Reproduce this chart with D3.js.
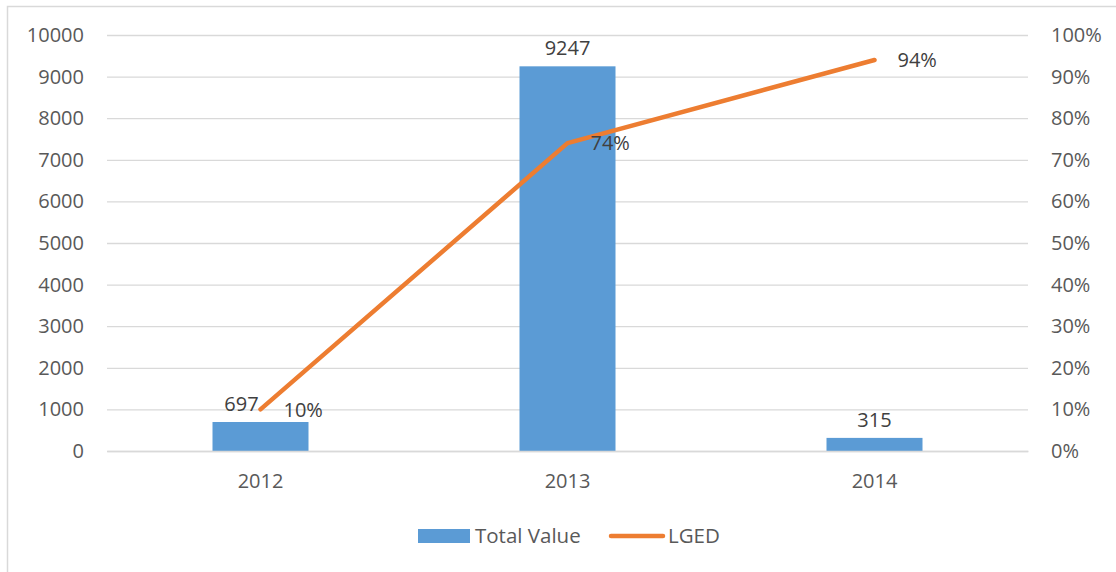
<!DOCTYPE html>
<html>
<head>
<meta charset="utf-8">
<script src="https://cdn.jsdelivr.net/npm/d3@7"></script>
<style>
  html, body { margin: 0; padding: 0; background: #fff; }
  svg { display: block; font-family: 'Open Sans', 'Liberation Sans', sans-serif; }
</style>
</head>
<body>
<svg id="chart" width="1116" height="572"></svg>
<script>
const years = ['2012', '2013', '2014'];
const totalValue = [697, 9247, 315];
const lged = [0.10, 0.74, 0.94];
const leftTicks = [0, 1000, 2000, 3000, 4000, 5000, 6000, 7000, 8000, 9000, 10000];
const rightTicks = [0, 0.1, 0.2, 0.3, 0.4, 0.5, 0.6, 0.7, 0.8, 0.9, 1.0];

const svg = d3.select('#chart');
const plot = { left: 107, right: 1028, top: 35, bottom: 451 };
const fontSize = '20px';

// chart frame
svg.append('rect')
  .attr('x', 7.5).attr('y', 6.5)
  .attr('width', 1120).attr('height', 580)
  .attr('fill', '#fff').attr('stroke', '#d9d9d9').attr('stroke-width', 1.5);

const x = d3.scaleBand().domain(years).range([plot.left, plot.right]).paddingInner(0).paddingOuter(0);
const yLeft = d3.scaleLinear().domain([0, 10000]).range([plot.bottom, plot.top]);
const yRight = d3.scaleLinear().domain([0, 1]).range([plot.bottom, plot.top]);

// gridlines
svg.append('g')
  .attr('transform', `translate(${plot.left},0)`)
  .call(d3.axisLeft(yLeft).tickValues(leftTicks).tickSize(-(plot.right - plot.left)).tickFormat(''))
  .call((g) => g.select('.domain').remove())
  .call((g) => g.selectAll('line').attr('stroke', '#d9d9d9').attr('stroke-width', 1.3));

// left axis labels
svg.append('g')
  .attr('transform', `translate(${plot.left},0)`)
  .call(d3.axisLeft(yLeft).tickValues(leftTicks).tickSize(0).tickPadding(23).tickFormat(d3.format('d')))
  .call((g) => g.select('.domain').remove())
  .call((g) => g.selectAll('text').attr('fill', '#595959').style('font-size', fontSize)
    .style('font-family', "'Open Sans', sans-serif"));

// right axis labels
svg.append('g')
  .attr('transform', `translate(${plot.right},0)`)
  .call(d3.axisRight(yRight).tickValues(rightTicks).tickSize(0).tickPadding(23).tickFormat(d3.format('.0%')))
  .call((g) => g.select('.domain').remove())
  .call((g) => g.selectAll('text').attr('fill', '#595959').style('font-size', fontSize)
    .style('font-family', "'Open Sans', sans-serif"));

// bars
const barWidth = 96;
svg.append('g').selectAll('rect')
  .data(years)
  .join('rect')
  .attr('x', (d) => x(d) + x.bandwidth() / 2 - barWidth / 2)
  .attr('y', (d, i) => yLeft(totalValue[i]))
  .attr('width', barWidth)
  .attr('height', (d, i) => plot.bottom - yLeft(totalValue[i]))
  .attr('fill', '#5b9bd5');

// bottom axis
svg.append('g')
  .attr('transform', `translate(0,${plot.bottom})`)
  .call(d3.axisBottom(x).tickSize(0).tickPadding(23))
  .call((g) => g.select('.domain').attr('stroke', '#d9d9d9').attr('stroke-width', 1.3))
  .call((g) => g.selectAll('text').attr('fill', '#595959').style('font-size', fontSize)
    .style('font-family', "'Open Sans', sans-serif"));

// bar labels (Excel nudged the 2012 one left, away from the line)
const barLabelShift = [-19, 0, 0];
svg.append('g').selectAll('text')
  .data(years)
  .join('text')
  .attr('x', (d, i) => x(d) + x.bandwidth() / 2 + barLabelShift[i])
  .attr('y', (d, i) => yLeft(totalValue[i]) - 11)
  .attr('text-anchor', 'middle')
  .attr('fill', '#404040')
  .style('font-size', fontSize)
  .text((d, i) => totalValue[i]);

// line
const line = d3.line()
  .x((d, i) => x(years[i]) + x.bandwidth() / 2)
  .y((d) => yRight(d));

svg.append('path')
  .datum(lged)
  .attr('d', line)
  .attr('fill', 'none')
  .attr('stroke', '#ed7d31')
  .attr('stroke-width', 4.5)
  .attr('stroke-linecap', 'round')
  .attr('stroke-linejoin', 'round');

// line labels
svg.append('g').selectAll('text')
  .data(lged)
  .join('text')
  .attr('x', (d, i) => x(years[i]) + x.bandwidth() / 2 + 23)
  .attr('y', (d) => yRight(d))
  .attr('dy', '0.36em')
  .attr('fill', '#404040')
  .style('font-size', fontSize)
  .text((d) => d3.format('.0%')(d));

// legend
const legend = svg.append('g');
legend.append('rect')
  .attr('x', 418).attr('y', 529).attr('width', 52).attr('height', 14)
  .attr('fill', '#5b9bd5');
legend.append('text')
  .attr('x', 475).attr('y', 536).attr('dy', '0.36em')
  .attr('fill', '#595959').style('font-size', '20.5px')
  .text('Total Value');
legend.append('line')
  .attr('x1', 611).attr('x2', 663).attr('y1', 536).attr('y2', 536)
  .attr('stroke', '#ed7d31').attr('stroke-width', 4.5).attr('stroke-linecap', 'round');
legend.append('text')
  .attr('x', 668).attr('y', 536).attr('dy', '0.36em')
  .attr('fill', '#595959').style('font-size', '20.5px')
  .text('LGED');
</script>
</body>
</html>
